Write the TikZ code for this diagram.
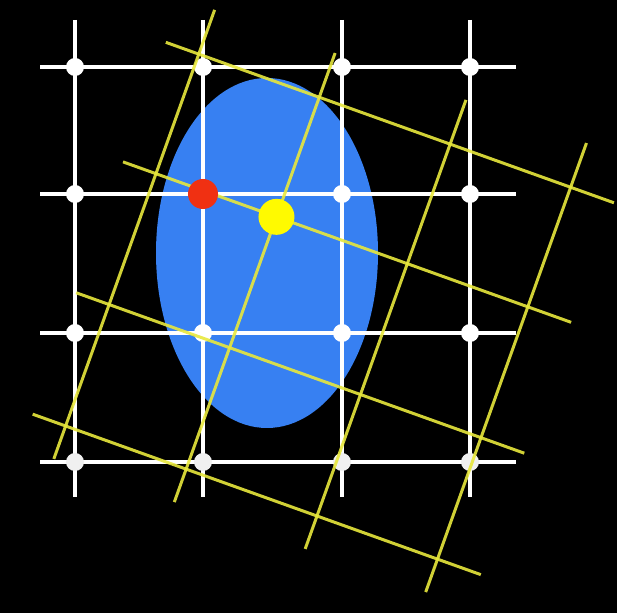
\documentclass[tikz,border=0pt]{standalone}
\usepackage{xcolor}
\usepackage{tikz}
\definecolor{blobblue}{RGB}{55,128,242}
\definecolor{gridyellow}{RGB}{232,232,60}
\definecolor{pixred}{RGB}{240,48,18}
\definecolor{pixyellow}{RGB}{255,250,0}

\begin{document}
\begin{tikzpicture}[
  x=0.5pt, y=-0.5pt,
  wline/.style={white, line width=2pt},
  yline/.style={gridyellow, line width=1.5pt, opacity=0.9},
  wdot/.style={fill=white},
  ldot/.style={fill=white!88!gray}]
\fill[black] (0,0) rectangle (617,613);
\useasboundingbox (0,0) rectangle (617,613);
\fill[blobblue] (267,253) ellipse [x radius=111, y radius=175];
% sampling grid
\foreach \y in {67,194,333,462}
  \draw[wline] (40,\y) -- (516,\y);
\foreach \x in {75,203,342,470}
  \draw[wline] (\x,20) -- (\x,497);
\foreach \x in {75,203,342,470} {
  \foreach \y in {67,194,333}
    \path[wdot] (\x,\y) circle (9);
  \path[ldot] (\x,462) circle (9);
}
% rotated grid
\begin{scope}[rotate around={-19.7:(174,417)}]
  \foreach \y in {67,194,333,462}
    \draw[yline] (40,\y) -- (516,\y);
  \foreach \x in {75,203,342,470}
    \draw[yline] (\x,20) -- (\x,497);
  \coordinate (ypix) at (203,194);
\end{scope}
\coordinate (rpix) at (203,194);
\fill[pixred] (rpix) circle (15);
\fill[pixyellow] (ypix) circle (18);
\end{tikzpicture}
\end{document}
